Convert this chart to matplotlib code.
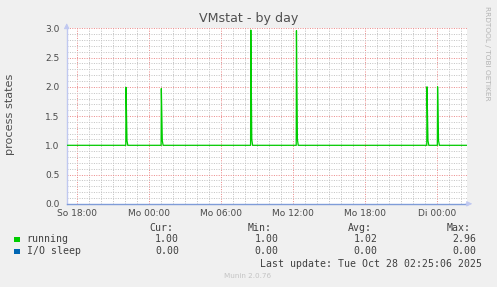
import matplotlib
matplotlib.use('Agg')
import matplotlib.pyplot as plt
from matplotlib.ticker import MultipleLocator

# hours relative to So 18:00
run_t = [-0.83,
         4.09, 4.11, 4.19, 4.26,
         7.03, 7.05, 7.13, 7.20,
         14.48, 14.50, 14.58, 14.65,
         18.28, 18.30, 18.38, 18.45,
         29.15, 29.17, 29.25, 29.32,
         30.03, 30.05, 30.13, 30.20,
         32.5]
run_v = [1.0,
         1.0, 1.99, 1.08, 1.0,
         1.0, 1.97, 1.08, 1.0,
         1.0, 2.97, 1.10, 1.0,
         1.0, 2.96, 1.10, 1.0,
         1.0, 2.00, 1.08, 1.0,
         1.0, 2.00, 1.08, 1.0,
         1.0]
io_t = [-0.83, 32.5]
io_v = [0.0, 0.0]

tick_hours = [0, 6, 12, 18, 24, 30]
tick_labels = ['So 18:00', 'Mo 00:00', 'Mo 06:00', 'Mo 12:00', 'Mo 18:00', 'Di 00:00']

legend_names = ['running', 'I/O sleep']
legend_colors = ['#00cc00', '#0066b3']
cur_vals = ['1.00', '0.00']
min_vals = ['1.00', '0.00']
avg_vals = ['1.02', '0.00']
max_vals = ['2.96', '0.00']

W, H = 497, 287
fig = plt.figure(figsize=(W / 100, H / 100), dpi=100)
fig.patch.set_facecolor('#f0f0f0')


def px(x, y):
    return x / W, 1 - y / H


ax = fig.add_axes([66.7 / W, 1 - 203.8 / H, (467 - 66.7) / W, (203.8 - 28.3) / H])
ax.set_facecolor('white')
ax.set_xlim(-0.83, 32.5)
ax.set_ylim(0, 3.0)

ax.xaxis.set_major_locator(MultipleLocator(3))
ax.xaxis.set_minor_locator(MultipleLocator(1))
ax.yaxis.set_major_locator(MultipleLocator(0.5))
ax.yaxis.set_minor_locator(MultipleLocator(0.1))
ax.grid(which='minor', color='#c4c4c4', linestyle=(0, (1, 1.4)), linewidth=0.72)
ax.grid(which='major', color='#ec8c8c', linestyle=(0, (1, 1.4)), linewidth=0.72)
ax.set_axisbelow(True)

ax.set_xticks(tick_hours, tick_labels)
ax.set_yticks([0, 0.5, 1.0, 1.5, 2.0, 2.5, 3.0], ['0.0', '0.5', '1.0', '1.5', '2.0', '2.5', '3.0'])
ax.tick_params(which='both', length=0, labelsize=6.5, labelcolor='#4a4a4a')
ax.tick_params(axis='x', pad=4)
ax.tick_params(axis='y', pad=5)

for s in ['top', 'right']:
    ax.spines[s].set_visible(False)
ax.spines['left'].set_color('#c0c8f0')
ax.spines['bottom'].set_color('#7f9cd8')
ax.spines['left'].set_linewidth(1)
ax.spines['bottom'].set_linewidth(1)

ax.plot(run_t, run_v, color='#00cc00', linewidth=0.9, zorder=3)
ax.plot(io_t, io_v, color='#0066b3', linewidth=0.5, alpha=0.4, zorder=3)

# axis arrows
ax.annotate('', xy=(0, 1.045), xytext=(0, 0.99), xycoords='axes fraction',
            arrowprops=dict(arrowstyle='-|>', color='#c0c8f0', lw=0.7, mutation_scale=8),
            annotation_clip=False)
ax.annotate('', xy=(1.02, 0), xytext=(0.99, 0), xycoords='axes fraction',
            arrowprops=dict(arrowstyle='-|>', color='#c0c8f0', lw=0.7, mutation_scale=8),
            annotation_clip=False)

fig.text(*px(248.7, 18.5), 'VMstat - by day', ha='center', va='center', fontsize=9.1, color='#505050')
fig.text(*px(10, 114), 'process states', ha='center', va='center', rotation=90, fontsize=8.1, color='#505050')
fig.text(*px(487, 53.5), 'RRDTOOL / TOBI OETIKER', ha='center', va='center', rotation=270,
         fontsize=5.3, color='#b4b4b4')

mono = dict(family='DejaVu Sans Mono', fontsize=7.1, color='#404040', va='center')
fig.text(*px(173, 227.7), 'Cur:', ha='right', **mono)
fig.text(*px(272, 227.7), 'Min:', ha='right', **mono)
fig.text(*px(371.5, 227.7), 'Avg:', ha='right', **mono)
fig.text(*px(470.5, 227.7), 'Max:', ha='right', **mono)

rows_y = [239.3, 251.3]
for i in range(len(legend_names)):
    y = rows_y[i]
    fig.patches.append(plt.Rectangle(px(14, y + 2.8), 5.5 / W, 5.5 / H, transform=fig.transFigure,
                                     facecolor=legend_colors[i], edgecolor='none'))
    fig.text(*px(26.7, y), legend_names[i], ha='left', **mono)
    fig.text(*px(179, y), cur_vals[i], ha='right', **mono)
    fig.text(*px(278.5, y), min_vals[i], ha='right', **mono)
    fig.text(*px(377.5, y), avg_vals[i], ha='right', **mono)
    fig.text(*px(476.8, y), max_vals[i], ha='right', **mono)

fig.text(*px(482.5, 264), 'Last update: Tue Oct 28 02:25:06 2025', ha='right', **mono)
fig.text(*px(248, 275.7), 'Munin 2.0.76', ha='center', va='center', fontsize=5.2, color='#c4c4c4')

fig.savefig('out.png', dpi=100, facecolor=fig.get_facecolor())
